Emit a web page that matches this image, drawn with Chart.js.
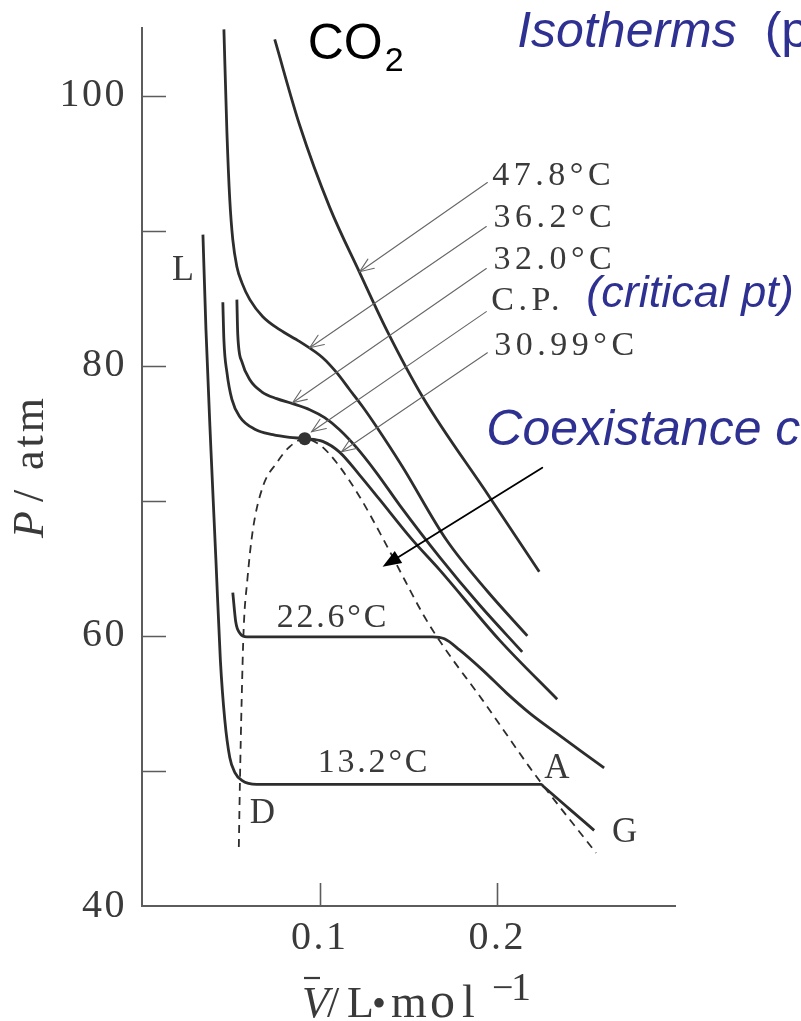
<!DOCTYPE html>
<html>
<head>
<meta charset="utf-8">
<script src="https://cdn.jsdelivr.net/npm/chart.js@4.4.1/dist/chart.umd.min.js"></script>
<style>
  html, body { margin: 0; padding: 0; background: #ffffff; }
  canvas { display: block; }
</style>
</head>
<body>
<canvas id="pv" width="801" height="1021"></canvas>
<script>
// CO2 isotherms: molar volume V (L/mol) against pressure P (atm)
const v478 = [0.0747, 0.0888, 0.1056, 0.1225, 0.1376, 0.1579, 0.1955, 0.2236];
const p478 = [104.15, 97.78, 91.74, 86.89, 82.67, 77.70, 70.30, 64.74];

const v362 = [0.0461, 0.0478, 0.0494, 0.0511, 0.0534, 0.0562, 0.0607, 0.0680, 0.0775, 0.0888, 0.1017, 0.1096, 0.1169, 0.1242, 0.1320, 0.1466, 0.1713, 0.1944, 0.2169];
const p362 = [104.9, 97.26, 92.30, 89.33, 87.33, 86.15, 84.89, 83.63, 82.67, 81.78, 80.59, 79.48, 78.22, 76.96, 75.48, 72.52, 67.11, 63.30, 60.0];

const v320 = [0.0534, 0.0539, 0.0562, 0.0607, 0.0674, 0.0758, 0.0848, 0.0944, 0.1028, 0.1112, 0.1208, 0.1320, 0.1449, 0.1674, 0.1899, 0.2140];
const p320 = [84.89, 82.30, 80.30, 78.96, 78.07, 77.56, 77.19, 76.74, 76.15, 75.26, 73.93, 72.07, 69.70, 65.85, 62.30, 58.81];

const v3099 = [0.0455, 0.0461, 0.0478, 0.0506, 0.0551, 0.0635, 0.0736, 0.0831, 0.0916, 0.1017, 0.1112, 0.1225, 0.1337, 0.1522, 0.1674, 0.2011, 0.2337];
const p3099 = [84.7, 81.9, 79.5, 77.5, 76.2, 75.3, 74.9, 74.7, 74.6, 74.4, 73.6, 71.9, 70.1, 67.1, 64.9, 59.7, 55.3];

const v226 = [0.0511, 0.0528, 0.0551, 0.0590, 0.1635, 0.1702, 0.1787, 0.1916, 0.2051, 0.2180, 0.2331, 0.2461, 0.2601];
const p226 = [63.2, 61.0, 60.2, 59.93, 59.93, 59.78, 58.96, 57.48, 55.78, 54.30, 52.81, 51.56, 50.22];

const v132 = [0.0343, 0.0360, 0.0388, 0.0416, 0.0441, 0.0466, 0.0494, 0.0522, 0.0562, 0.0646, 0.2247, 0.2260, 0.2400, 0.2545];
const p132 = [89.7, 82.67, 73.78, 65.63, 58.22, 53.78, 51.0, 49.9, 49.3, 49.0, 49.0, 48.85, 47.25, 45.6];

// liquid-vapour coexistence boundary (dashed)
const vCoex = [0.0545, 0.0551, 0.0561, 0.0572, 0.0593, 0.0624, 0.0680, 0.0758, 0.0831, 0.0916, 0.1000, 0.1096, 0.1225, 0.1354, 0.1478, 0.1590, 0.1702, 0.1916, 0.2180, 0.2247, 0.2556];
const pCoex = [44.37, 49.04, 55.26, 60.44, 64.15, 67.85, 71.04, 72.81, 74.0, 74.59, 74.15, 72.81, 70.30, 67.26, 64.15, 61.41, 59.11, 55.26, 50.30, 49.11, 43.93];

// critical point
const vCrit = [0.0916];
const pCrit = [74.6];

// axis ticks
const xTickValues = [0.1, 0.2];
const xTickLabels = ['0.1', '0.2'];
const yTickValues = [40, 50, 60, 70, 80, 90, 100];
const yTickLabels = ['40', '', '60', '', '80', '', '100'];

const SERIF = '"Liberation Serif", "Times New Roman", serif';
const SANS = '"Liberation Sans", Arial, sans-serif';
const LINE = '#2d2d2d';
const AXIS = '#5c5c5c';
const INK = '#3a3a3a';
const BLUE = '#2e3192';

function pts(vs, ps) {
  return vs.map((v, i) => ({ x: v, y: ps[i] }));
}

function isotherm(label, vs, ps) {
  return {
    label,
    data: pts(vs, ps),
    showLine: true,
    borderColor: LINE,
    borderWidth: 2.8,
    pointRadius: 0,
    cubicInterpolationMode: 'monotone',
    borderJoinStyle: 'round',
    fill: false
  };
}

function drawText(ctx, str, x, y, font, color, spacing, align) {
  ctx.save();
  ctx.font = font;
  ctx.fillStyle = color;
  ctx.letterSpacing = (spacing || 0) + 'px';
  ctx.textAlign = align || 'left';
  ctx.textBaseline = 'alphabetic';
  ctx.fillText(str, x, y);
  const w = ctx.measureText(str).width;
  ctx.restore();
  return w;
}

function arrow(ctx, x1, y1, x2, y2, o) {
  ctx.save();
  ctx.strokeStyle = o.color;
  ctx.fillStyle = o.color;
  ctx.lineWidth = o.width;
  ctx.lineCap = 'round';
  const a = Math.atan2(y2 - y1, x2 - x1);
  const h = o.head, s = o.spread;
  const lx = x2 - h * Math.cos(a - s), ly = y2 - h * Math.sin(a - s);
  const rx = x2 - h * Math.cos(a + s), ry = y2 - h * Math.sin(a + s);
  ctx.beginPath();
  ctx.moveTo(x1, y1);
  if (o.filled) {
    ctx.lineTo(x2 - h * 0.8 * Math.cos(a), y2 - h * 0.8 * Math.sin(a));
  } else {
    ctx.lineTo(x2, y2);
  }
  ctx.stroke();
  ctx.beginPath();
  if (o.filled) {
    ctx.moveTo(x2, y2); ctx.lineTo(lx, ly); ctx.lineTo(rx, ry); ctx.closePath(); ctx.fill();
  } else {
    ctx.moveTo(lx, ly); ctx.lineTo(x2, y2); ctx.lineTo(rx, ry); ctx.stroke();
  }
  ctx.restore();
}

const decorations = {
  id: 'decorations',
  beforeDraw(chart) {
    // spaced-out serif digits on the axes
    chart.ctx.letterSpacing = '2.5px';
  },
  afterDraw(chart) {
    const ctx = chart.ctx;
    const xs = chart.scales.x, ys = chart.scales.y, area = chart.chartArea;
    const X = v => xs.getPixelForValue(v);
    const Y = p => ys.getPixelForValue(p);
    ctx.letterSpacing = '0px';

    // inward tick marks
    ctx.save();
    ctx.strokeStyle = AXIS;
    ctx.lineWidth = 1.6;
    ctx.beginPath();
    ys.ticks.forEach(t => {
      if (t.value <= ys.min) return;
      const y = Math.round(Y(t.value)) + 0.5;
      ctx.moveTo(area.left, y); ctx.lineTo(area.left + 24, y);
    });
    xs.ticks.forEach(t => {
      const x = Math.round(X(t.value)) + 0.5;
      ctx.moveTo(x, area.bottom); ctx.lineTo(x, area.bottom - 23);
    });
    ctx.stroke();
    ctx.restore();

    // axis titles
    const tf = '44px ' + SERIF;
    const tfi = 'italic 44px ' + SERIF;
    ctx.save();
    ctx.translate(area.left - 99, (area.top + area.bottom) / 2 + 71);
    ctx.rotate(-Math.PI / 2);
    drawText(ctx, 'P', 0, 0, tfi, INK, 0);
    drawText(ctx, '/', 36, 0, tf, INK, 0);
    drawText(ctx, 'atm', 68, 0, tf, INK, 3);
    ctx.restore();

    const bx = area.left + 160, by = area.bottom + 111;
    drawText(ctx, 'V', bx, by, tfi, INK, 0);
    ctx.save();
    ctx.strokeStyle = INK; ctx.lineWidth = 2.2;
    ctx.beginPath(); ctx.moveTo(bx + 2, by - 39); ctx.lineTo(bx + 18, by - 39); ctx.stroke();
    ctx.restore();
    drawText(ctx, '/', bx + 25, by, tf, INK, 0);
    drawText(ctx, 'L', bx + 45, by, tf, INK, 0);
    drawText(ctx, '\u2022', bx + 70, by, '40px ' + SERIF, INK, 0);
    drawText(ctx, 'm', bx + 89, by, '46px ' + SERIF, INK, 0);
    drawText(ctx, 'o', bx + 128, by, '50px ' + SERIF, INK, 0);
    drawText(ctx, 'l', bx + 160, by, '46px ' + SERIF, INK, 0);
    drawText(ctx, '\u2212', bx + 190, by - 17, '38px ' + SERIF, INK, 0);
    drawText(ctx, '1', bx + 209, by - 17, '40px ' + SERIF, INK, 0);

    // isotherm temperature labels with leader arrows
    const lf = '34px ' + SERIF;
    const leader = { color: '#666666', width: 1.1, head: 15, spread: 0.38, filled: false };
    arrow(ctx, X(0.1944), Y(93.56), X(0.1225), Y(86.96), leader);
    arrow(ctx, X(0.1938), Y(90.30), X(0.0944), Y(81.33), leader);
    arrow(ctx, X(0.1938), Y(87.19), X(0.0848), Y(77.26), leader);
    arrow(ctx, X(0.1938), Y(84.00), X(0.0955), Y(75.11), leader);
    arrow(ctx, X(0.1944), Y(80.96), X(0.1124), Y(73.63), leader);
    drawText(ctx, '47.8\u00B0C', X(0.1972), Y(93.41), lf, INK, 4.5);
    drawText(ctx, '36.2\u00B0C', X(0.1978), Y(90.30), lf, INK, 4.5);
    drawText(ctx, '32.0\u00B0C', X(0.1978), Y(87.19), lf, INK, 4.5);
    drawText(ctx, 'C.P.', X(0.1966), Y(84.15), lf, INK, 4.5);
    drawText(ctx, '30.99\u00B0C', X(0.1983), Y(80.81), lf, INK, 4.5);

    drawText(ctx, '22.6\u00B0C', X(0.0758), Y(60.67), lf, INK, 2.8);
    drawText(ctx, '13.2\u00B0C', X(0.0989), Y(49.93), lf, INK, 2.8);
    drawText(ctx, 'L', X(0.0169), Y(86.37), '36px ' + SERIF, INK, 0);
    drawText(ctx, 'D', X(0.0607), Y(46.15), '35px ' + SERIF, INK, 0);
    drawText(ctx, 'A', X(0.2264), Y(49.48), '35px ' + SERIF, INK, 0);
    drawText(ctx, 'G', X(0.2646), Y(44.74), '35px ' + SERIF, INK, 0);

    // species
    const cw = drawText(ctx, 'CO', X(0.0933), Y(102.67), '50px ' + SANS, '#000000', 0);
    drawText(ctx, '2', X(0.0933) + cw + 2, Y(102.67) + 12, '34px ' + SANS, '#000000', 0);

    // blue explanatory notes
    const iw = drawText(ctx, 'Isotherms', X(0.2112), Y(103.63), 'italic 50px ' + SANS, BLUE, 0);
    drawText(ctx, ' (p vs V)', X(0.2112) + iw + 14, Y(103.63), '50px ' + SANS, BLUE, 0);
    drawText(ctx, '(critical pt)', X(0.25), Y(84.37), 'italic 45px ' + SANS, BLUE, 0);
    drawText(ctx, 'Coexistance curve', X(0.1938), Y(74.15), 'italic 50px ' + SANS, BLUE, 0);

    arrow(ctx, X(0.2253), Y(72.44), X(0.1354), Y(65.11),
      { color: '#000000', width: 1.8, head: 20, spread: 0.36, filled: true });
  }
};

new Chart(document.getElementById('pv'), {
  type: 'scatter',
  data: {
    datasets: [
      {
        label: 'C.P.',
        data: pts(vCrit, pCrit),
        showLine: false,
        pointRadius: 6.5,
        pointBackgroundColor: '#333333',
        pointBorderWidth: 0
      },
      isotherm('47.8\u00B0C', v478, p478),
      isotherm('36.2\u00B0C', v362, p362),
      isotherm('32.0\u00B0C', v320, p320),
      isotherm('30.99\u00B0C', v3099, p3099),
      isotherm('22.6\u00B0C', v226, p226),
      isotherm('13.2\u00B0C', v132, p132),
      {
        label: 'coexistence',
        data: pts(vCoex, pCoex),
        showLine: true,
        borderColor: LINE,
        borderWidth: 1.8,
        borderDash: [8, 6],
        pointRadius: 0,
        cubicInterpolationMode: 'monotone',
        fill: false
      }
    ]
  },
  options: {
    responsive: false,
    animation: false,
    events: [],
    layout: { padding: { left: 0, right: 126, top: 28, bottom: 0 } },
    plugins: {
      legend: { display: false },
      tooltip: { enabled: false },
      title: { display: false }
    },
    scales: {
      x: {
        type: 'linear',
        position: 'bottom',
        min: 0,
        max: 0.3,
        afterBuildTicks: s => { s.ticks = xTickValues.map(value => ({ value })); },
        afterFit: s => { s.height = 115; s.paddingLeft = 0; s.paddingRight = 0; s.paddingTop = 0; s.paddingBottom = 0; },
        grid: { display: false, drawTicks: false },
        border: { display: true, color: AXIS, width: 2 },
        ticks: {
          autoSkip: false,
          maxRotation: 0,
          padding: 8,
          color: INK,
          font: { family: SERIF, size: 40 },
          callback: (value, i) => xTickLabels[i]
        }
      },
      y: {
        type: 'linear',
        min: 40,
        max: 105,
        afterBuildTicks: s => { s.ticks = yTickValues.map(value => ({ value })); },
        afterFit: s => { s.width = 142; s.paddingLeft = 0; s.paddingRight = 0; s.paddingTop = 0; s.paddingBottom = 0; },
        grid: { display: false, drawTicks: false },
        border: { display: true, color: AXIS, width: 2 },
        ticks: {
          autoSkip: false,
          padding: 15,
          color: INK,
          font: { family: SERIF, size: 40 },
          callback: (value, i) => yTickLabels[i]
        }
      }
    }
  },
  plugins: [decorations]
});
</script>
</body>
</html>
